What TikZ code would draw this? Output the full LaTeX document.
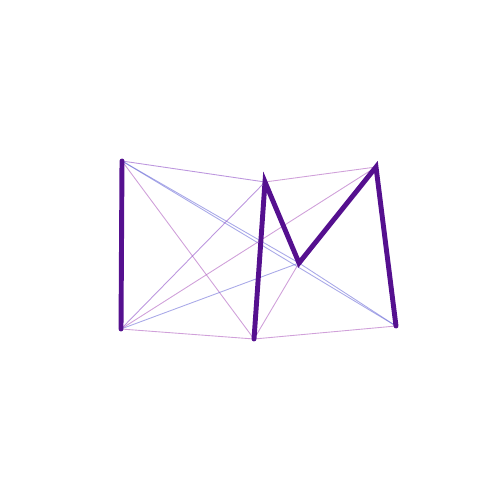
\documentclass[tikz,border=0pt]{standalone}
\usepackage{tikz}
\definecolor{route}{HTML}{55108F}
\definecolor{edgeblue}{HTML}{7070D8}
\definecolor{edgepink}{HTML}{B060C0}
\definecolor{edgemix}{HTML}{9050C8}

\begin{document}
\begin{tikzpicture}[x=0.02cm, y=-0.02cm,
      pt/.style={coordinate},
      thin edge/.style={line width=0.5pt, draw opacity=0.6},
      blue edge/.style={thin edge, edgeblue},
      pink edge/.style={thin edge, edgepink},
      mix edge/.style={thin edge, edgemix},
      tour/.style={line width=2.8pt, route, line cap=round, line join=miter}]
    \useasboundingbox (0,0) rectangle (500,500);
    \node[pt] (tl) at (122,161) {};
    \node[pt] (bl) at (121,329) {};
    \node[pt] (bm) at (254,339) {};
    \node[pt] (tm) at (265,182) {};
    \node[pt] (mid) at (299,263) {};
    \node[pt] (tr) at (376,167) {};
    \node[pt] (br) at (396,326) {};
    % thin edges
    \draw[mix edge] (tl) -- (tm);
    \draw[blue edge] (tl) -- (mid);
    \draw[blue edge] (tl) -- (br);
    \draw[pink edge] (tl) -- (bm);
    \draw[mix edge] (bl) -- (tm);
    \draw[pink edge] (bl) -- (tr);
    \draw[blue edge] (bl) -- (mid);
    \draw[pink edge] (bl) -- (bm);
    \draw[pink edge] (tm) -- (tr);
    \draw[pink edge] (bm) -- (mid);
    \draw[pink edge] (bm) -- (br);
    \draw[blue edge] (mid) -- (br);
    % thick path
    \draw[tour] (tl) -- (bl);
    \draw[tour] (bm) -- (tm) -- (mid) -- (tr) -- (br);
  \end{tikzpicture}
\end{document}
